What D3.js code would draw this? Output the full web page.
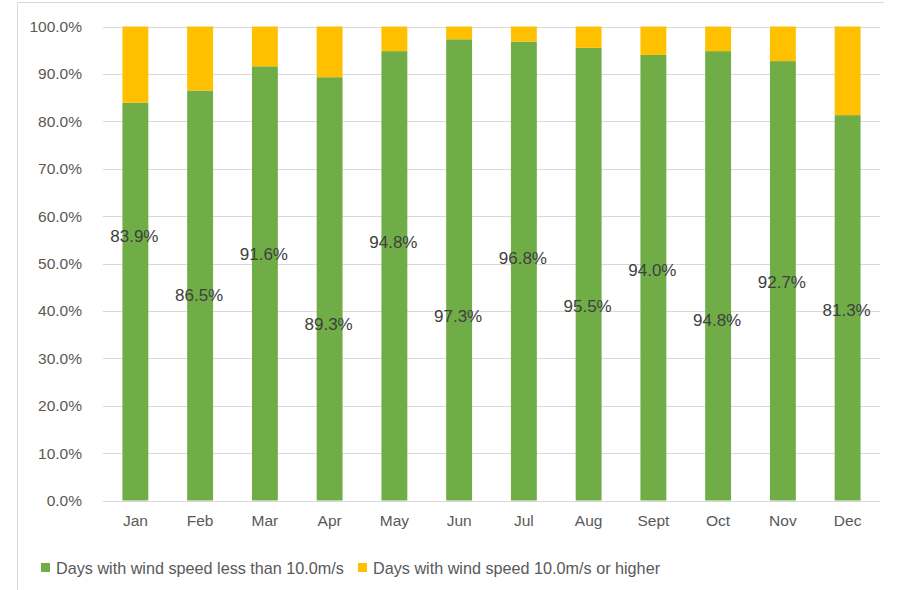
<!DOCTYPE html>
<meta charset="utf-8">
<script src="https://d3js.org/d3.v7.min.js"></script>
<style>
  body { margin: 0; background: #fff; }
  text { font-family: "Liberation Sans", Arial, sans-serif; }
</style>
<div id="chart"></div>
<script>
  // months and share of days (percent) per wind class
  var months = ["Jan", "Feb", "Mar", "Apr", "May", "Jun", "Jul", "Aug", "Sept", "Oct", "Nov", "Dec"];
  var lowWind = [83.9, 86.5, 91.6, 89.3, 94.8, 97.3, 96.8, 95.5, 94.0, 94.8, 92.7, 81.3];
  var highWind = [16.1, 13.5, 8.4, 10.7, 5.2, 2.7, 3.2, 4.5, 6.0, 5.2, 7.3, 18.7];
  var seriesNames = ["Days with wind speed less than 10.0m/s", "Days with wind speed 10.0m/s or higher"];
  var yTicks = [0, 10, 20, 30, 40, 50, 60, 70, 80, 90, 100];

  var colors = ["#70AD47", "#FFC000"];

  var width = 902, height = 590;
  var svg = d3.select("#chart").append("svg")
    .attr("width", width)
    .attr("height", height);

  // chart area frame (top and left edges visible)
  svg.append("line")
    .attr("x1", 17.5).attr("x2", 884).attr("y1", 2.5).attr("y2", 2.5)
    .attr("stroke", "#d9d9d9");
  svg.append("line")
    .attr("x1", 17.5).attr("x2", 17.5).attr("y1", 2.5).attr("y2", height)
    .attr("stroke", "#d9d9d9");

  var x = d3.scaleBand().domain(months).range([103, 880]).paddingInner(0.6).paddingOuter(0.3);
  var y = d3.scaleLinear().domain([0, 100]).range([500.5, 26.5]);

  // gridlines
  svg.append("g")
    .selectAll("line")
    .data(yTicks)
    .enter()
    .append("line")
    .attr("x1", 103).attr("x2", 880)
    .attr("y1", function (d) { return Math.round(y(d)) + 0.5; })
    .attr("y2", function (d) { return Math.round(y(d)) + 0.5; })
    .attr("stroke", "#d9d9d9")
    .attr("stroke-width", 1);

  // y axis labels
  var yAxis = svg.append("g")
    .attr("transform", "translate(103,0)")
    .call(d3.axisLeft(y).tickValues(yTicks).tickSize(0).tickPadding(21)
      .tickFormat(function (d) { return d.toFixed(1) + "%"; }));
  yAxis.select(".domain").remove();
  yAxis.selectAll("text")
    .style("font-size", "15.5px")
    .style("font-family", "'Liberation Sans', Arial, sans-serif")
    .attr("fill", "#595959");

  // x axis labels
  var xAxis = svg.append("g")
    .attr("transform", "translate(0,500)")
    .call(d3.axisBottom(x).tickSize(0).tickPadding(15));
  xAxis.select(".domain").remove();
  xAxis.selectAll("text")
    .style("font-size", "15.5px")
    .style("font-family", "'Liberation Sans', Arial, sans-serif")
    .attr("fill", "#595959");

  // stacked bars
  var rows = months.map(function (m, i) { return { month: m, low: lowWind[i], high: highWind[i] }; });
  var stack = d3.stack().keys(["low", "high"])(rows);

  svg.append("g")
    .selectAll("g")
    .data(stack)
    .enter()
    .append("g")
    .attr("fill", function (d, i) { return colors[i]; })
    .selectAll("rect")
    .data(function (d) { return d; })
    .enter()
    .append("rect")
    .attr("x", function (d) { return x(d.data.month); })
    .attr("y", function (d) { return y(Math.min(d[1], 100)); })
    .attr("width", x.bandwidth())
    .attr("height", function (d) { return y(d[0]) - y(Math.min(d[1], 100)); });

  // data labels sit at staggered heights (axis units), as in the source chart
  var labelAt = [55.9, 43.4, 52.1, 37.2, 54.5, 38.9, 51.2, 41.1, 48.6, 38.1, 46.2, 40.3];
  svg.append("g")
    .selectAll("text")
    .data(rows)
    .enter()
    .append("text")
    .attr("x", function (d) { return x(d.month) + x.bandwidth() / 2 - 1; })
    .attr("y", function (d, i) { return y(labelAt[i]); })
    .attr("dy", "0.36em")
    .attr("text-anchor", "middle")
    .style("font-size", "17px")
    .attr("fill", "#404040")
    .text(function (d) { return d.low.toFixed(1) + "%"; });

  // legend
  var legendX = [41, 358];
  var legend = svg.append("g")
    .selectAll("g")
    .data(seriesNames)
    .enter()
    .append("g")
    .attr("transform", function (d, i) { return "translate(" + legendX[i] + ",563)"; });
  legend.append("rect")
    .attr("width", 9).attr("height", 9)
    .attr("fill", function (d, i) { return colors[i]; });
  legend.append("text")
    .attr("x", 15).attr("y", 10.5)
    .style("font-size", "16.2px")
    .attr("fill", "#595959")
    .text(function (d) { return d; });
</script>
